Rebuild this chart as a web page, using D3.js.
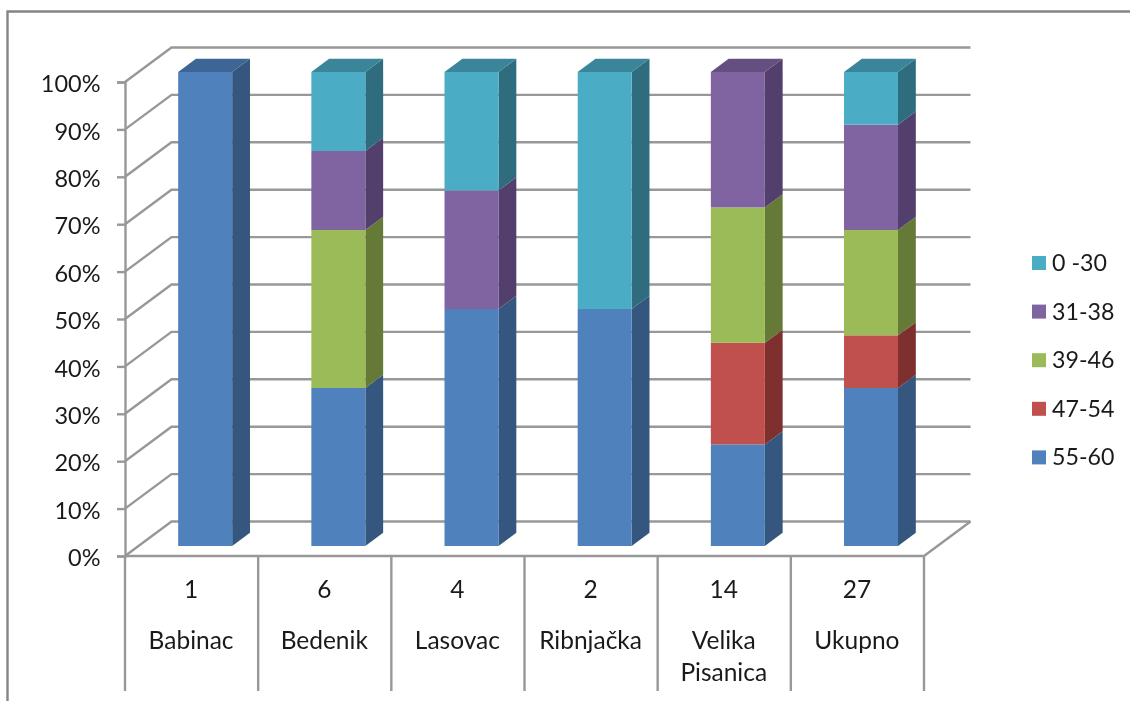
<!DOCTYPE html>
<html>
<head>
<meta charset="utf-8">
<script src="https://cdn.jsdelivr.net/npm/d3@7"></script>
<style>
  html, body { margin: 0; padding: 0; background: #fff; overflow: hidden; }
  svg { display: block; filter: blur(0.35px); }
  text { font-family: Lato, "Open Sans", sans-serif; fill: #1a1a1a; }
</style>
</head>
<body>
<div id="chart"></div>
<script>
// counts of people per age group, the chart stacks them to 100%
const categories = ["Babinac", "Bedenik", "Lasovac", "Ribnjačka", "Velika Pisanica", "Ukupno"];
const totals = [1, 6, 4, 2, 14, 27];
const seriesNames = ["55-60", "47-54", "39-46", "31-38", "0 -30"];
const s5560 = [1, 2, 2, 1, 3, 9];
const s4754 = [0, 0, 0, 0, 3, 3];
const s3946 = [0, 2, 0, 0, 4, 6];
const s3138 = [0, 1, 1, 0, 4, 6];
const s030 = [0, 1, 1, 1, 0, 3];
const percentTicks = [0, 0.1, 0.2, 0.3, 0.4, 0.5, 0.6, 0.7, 0.8, 0.9, 1];

const frontColors = ["#4f81bd", "#c0504d", "#9bbb59", "#8064a2", "#4bacc6"];
const sideColors = ["#34567f", "#7e302e", "#667a37", "#533f6c", "#2f6c7d"];
const topColors = ["#3d6595", "#95403d", "#7a9445", "#654f80", "#3b859b"];

const width = 1130;
const height = 701;
const plot = {left: 125, right: 924, top: 82, bottom: 556, labelsBottom: 691};
const wall = {dx: 46.5, dy: -34.5};   // depth of the 3d box
const bar = {w: 54, dx: 17.8, dy: -13.2, shiftX: 13.6, shiftY: -10};
const gridColor = "#989898";

const svg = d3.select("#chart")
  .append("svg")
  .attr("width", width)
  .attr("height", height);

// outer frame, runs off the right and bottom of the picture
svg.append("path")
  .attr("d", `M7.5,${height}V11.5H${width}`)
  .attr("fill", "none")
  .attr("stroke", "#858585")
  .attr("stroke-width", 2.4);

const xScale = d3.scaleBand()
  .domain(categories)
  .range([plot.left, plot.right]);

const yScale = d3.scaleLinear()
  .domain([0, 1])
  .range([plot.bottom, plot.top]);

const rows = categories.map((c, i) => ({
  category: c,
  "55-60": s5560[i],
  "47-54": s4754[i],
  "39-46": s3946[i],
  "31-38": s3138[i],
  "0 -30": s030[i]
}));

const stacked = d3.stack()
  .keys(seriesNames)
  .offset(d3.stackOffsetExpand)(rows);

// back wall and left wall lines
const gridG = svg.append("g")
  .attr("fill", "none")
  .attr("stroke", gridColor)
  .attr("stroke-width", 2.4);

percentTicks.forEach((t) => {
  const y = yScale(t);
  gridG.append("path")
    .attr("d", `M${plot.left},${y}L${plot.left + wall.dx},${y + wall.dy}H${plot.right + wall.dx}`);
});

// right edge of the floor and the front floor line
gridG.append("path")
  .attr("d", `M${plot.left},${plot.bottom}H${plot.right}L${plot.right + wall.dx},${plot.bottom + wall.dy}`);

// y axis
const yAxis = svg.append("g")
  .attr("transform", `translate(${plot.left},0)`)
  .call(d3.axisLeft(yScale)
    .tickValues(percentTicks)
    .tickFormat(d3.format(".0%"))
    .tickSize(8)
    .tickPadding(16.5));

yAxis.select(".domain")
  .attr("stroke", gridColor)
  .attr("stroke-width", 2.4);
yAxis.selectAll(".tick line")
  .attr("stroke", gridColor)
  .attr("stroke-width", 2.4);
yAxis.selectAll(".tick text")
  .attr("font-size", 23.5)
  .attr("dy", "0.41em")
  .style("font-family", "Lato, 'Open Sans', sans-serif")
  .style("fill", "#1a1a1a");

// category dividers under the floor
const dividers = categories.map((c) => xScale(c)).concat([plot.right]);
gridG.selectAll(".divider")
  .data(dividers)
  .enter()
  .append("line")
  .attr("class", "divider")
  .attr("x1", (d) => d)
  .attr("x2", (d) => d)
  .attr("y1", plot.bottom)
  .attr("y2", plot.labelsBottom);

// bars
const barX = (c) => xScale(c) + xScale.bandwidth() / 2 - bar.w / 2 + bar.shiftX;
const barY = (v) => yScale(v) + bar.shiftY;

stacked.forEach((layer, s) => {
  const g = svg.append("g");
  layer.forEach((d) => {
    if (d[1] - d[0] <= 0) return;
    const c = d.data.category;
    const x0 = barX(c);
    const x1 = x0 + bar.w;
    const y0 = barY(d[0]);
    const y1 = barY(d[1]);

    g.append("path")
      .attr("d", `M${x1},${y0}L${x1 + bar.dx},${y0 + bar.dy}V${y1 + bar.dy}L${x1},${y1}Z`)
      .attr("fill", sideColors[s]);

    // only the top segment shows its lid
    if (d[1] >= 0.9999) {
      g.append("path")
        .attr("d", `M${x0},${y1}L${x0 + bar.dx},${y1 + bar.dy}H${x1 + bar.dx}L${x1},${y1}Z`)
        .attr("fill", topColors[s]);
    }

    g.append("rect")
      .attr("x", x0)
      .attr("y", y1)
      .attr("width", bar.w)
      .attr("height", y0 - y1)
      .attr("fill", frontColors[s]);
  });
});

// two level category labels
const labelG = svg.append("g")
  .attr("font-size", 24.5)
  .attr("text-anchor", "middle");

categories.forEach((c, i) => {
  const cx = xScale(c) + xScale.bandwidth() / 2 - 0.5;
  labelG.append("text")
    .attr("x", cx)
    .attr("y", 598)
    .text(totals[i]);

  c.split(" ").forEach((word, k) => {
    labelG.append("text")
      .attr("x", cx)
      .attr("y", 649 + k * 32)
      .text(word);
  });
});

// legend, top entry is the last series
const legendTop = 256;
const legendStep = 48.6;
const legend = svg.append("g")
  .selectAll("g")
  .data(seriesNames.slice().reverse())
  .enter()
  .append("g")
  .attr("transform", (d, i) => `translate(1032,${legendTop + i * legendStep})`);

legend.append("rect")
  .attr("width", 14)
  .attr("height", 14)
  .attr("fill", (d) => frontColors[seriesNames.indexOf(d)]);

legend.append("text")
  .attr("x", 20)
  .attr("y", 15)
  .attr("font-size", 23.2)
  .text((d) => d);
</script>
</body>
</html>
